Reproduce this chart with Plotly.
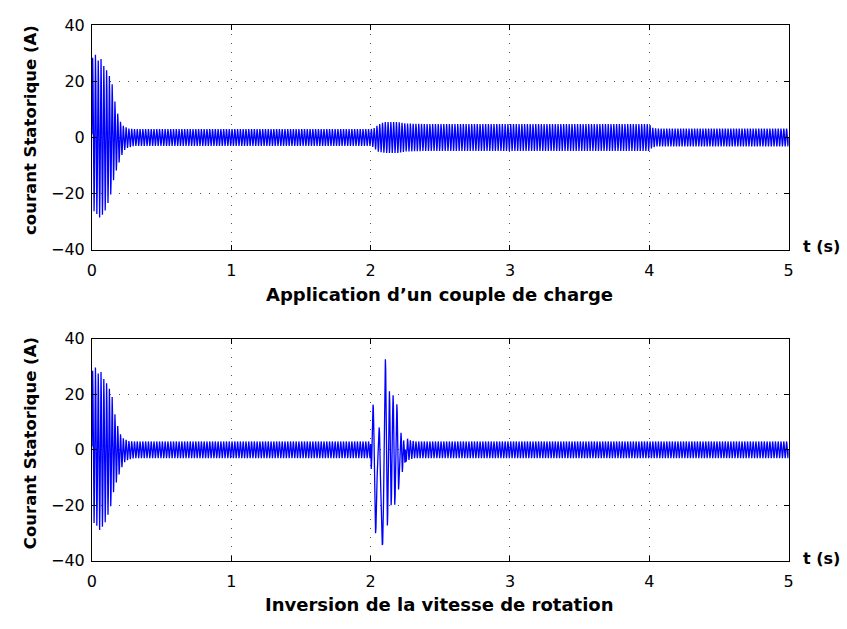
import numpy as np
import plotly.graph_objects as go

# ---------------- data ----------------
F_SUPPLY = 50.0          # Hz, stator current frequency
T_END = 5.0
DT = 2e-4

# Top plot: start-up envelope + load application (2 s -> 4 s)
TOP_ENV_T_UP = [0.0, 0.021, 0.045, 0.065, 0.085, 0.105, 0.125, 0.145, 0.156, 0.17, 0.2, 0.22, 0.26, 0.3,
                2.0, 2.02, 2.04, 2.07, 2.1, 2.2, 2.25, 2.4, 4.0, 4.02, 4.05, 5.0]
TOP_ENV_UP = [28.0, 30.0, 27.5, 28.0, 25.5, 24.0, 22.0, 19.0, 16.0, 11.0, 6.0, 4.3, 3.2, 3.0,
              3.0, 3.2, 4.0, 5.0, 5.5, 5.5, 5.0, 4.8, 4.8, 3.5, 3.2, 3.2]
TOP_ENV_T_LO = [0.0, 0.03, 0.055, 0.09, 0.11, 0.13, 0.16, 0.19, 0.21, 0.24, 0.3,
                2.0, 2.02, 2.05, 2.1, 2.2, 2.25, 2.4, 4.0, 4.01, 4.05, 5.0]
TOP_ENV_LO = [-25.7, -27.0, -28.6, -26.8, -24.0, -21.6, -14.0, -9.6, -6.7, -4.0, -3.0,
              -3.0, -3.5, -5.0, -5.5, -5.5, -5.0, -4.8, -4.8, -4.0, -3.2, -3.2]

# Bottom plot: start-up envelope + speed reversal transient
BOT_ENV_T_UP = [0.0, 0.021, 0.045, 0.065, 0.085, 0.105, 0.125, 0.145, 0.156, 0.17, 0.2, 0.22, 0.26, 0.3,
                2.0, 2.25, 2.28, 2.32, 5.0]
BOT_ENV_UP = [28.0, 30.1, 27.5, 28.0, 25.5, 24.0, 22.0, 19.0, 16.0, 11.0, 6.0, 4.3, 3.2, 3.0,
              3.0, 4.5, 3.5, 3.0, 3.0]
BOT_ENV_T_LO = [0.0, 0.03, 0.055, 0.09, 0.11, 0.13, 0.16, 0.19, 0.21, 0.24, 0.3,
                2.0, 2.25, 2.28, 2.32, 5.0]
BOT_ENV_LO = [-25.7, -27.0, -28.9, -26.8, -24.0, -21.6, -14.0, -9.6, -6.7, -4.0, -3.0,
              -3.0, -4.5, -3.5, -3.0, -3.0]

# extrema of the reversal transient (time s, current A)
REV_T = [2.000, 2.0047, 2.0166, 2.0355, 2.059, 2.085, 2.106, 2.1206, 2.1348, 2.1466,
         2.1608, 2.1726, 2.189, 2.2009, 2.2175, 2.227, 2.2364, 2.2459, 2.25]
REV_V = [2.0, -8.9, 17.9, -28.1, 8.0, -36.3, 30.7, -27.5, 23.1, -21.7,
         19.0, -18.2, 15.5, -14.7, 7.4, -9.5, 5.1, -6.6, 0.0]

X_TICKS = [0, 1, 2, 3, 4, 5]
Y_TICKS = [-40, -20, 0, 20, 40]

TOP_YLABEL = "courant Statorique (A)"
BOT_YLABEL = "Courant Statorique (A)"
TOP_XLABEL = "Application d\u2019un couple de charge"
BOT_XLABEL = "Inversion de la vitesse de rotation"
T_LABEL = "t (s)"

# ---------------- build signals ----------------
t = np.arange(0.0, T_END + DT / 2, DT)
carrier = np.sin(2 * np.pi * F_SUPPLY * t)


def modulated(tt, car, tu, up, tl, lo):
    u = np.interp(tt, tu, up)
    l = np.interp(tt, tl, lo)
    return (u + l) / 2 + (u - l) / 2 * car


y_top = modulated(t, carrier, TOP_ENV_T_UP, TOP_ENV_UP, TOP_ENV_T_LO, TOP_ENV_LO)

y_bot = modulated(t, carrier, BOT_ENV_T_UP, BOT_ENV_UP, BOT_ENV_T_LO, BOT_ENV_LO)
# replace the reversal window with the read extrema, smoothly joined
mask = (t >= REV_T[0]) & (t <= REV_T[-1])
tw = t[mask]
idx = np.clip(np.searchsorted(REV_T, tw, side="right") - 1, 0, len(REV_T) - 2)
t0 = np.array(REV_T)[idx]
t1 = np.array(REV_T)[idx + 1]
v0 = np.array(REV_V)[idx]
v1 = np.array(REV_V)[idx + 1]
s = (tw - t0) / (t1 - t0)
smooth = v0 + (v1 - v0) * (1 - np.cos(np.pi * s)) / 2
y_bot[mask] = smooth + 2.0 * carrier[mask]

# ---------------- figure ----------------
W, H = 847, 629
X0, X1 = 88, 793
TOP_Y0, TOP_Y1 = 17, 248
BOT_Y0, BOT_Y1 = 340, 569


def px(x):
    return x / W


def py(y):
    return 1 - y / H


fig = go.Figure()
fig.add_trace(go.Scatter(x=t, y=y_top, mode="lines", line=dict(color="#0000ff", width=1.3),
                         xaxis="x", yaxis="y", showlegend=False, hoverinfo="skip"))
fig.add_trace(go.Scatter(x=t, y=y_bot, mode="lines", line=dict(color="#0000ff", width=1.3),
                         xaxis="x2", yaxis="y2", showlegend=False, hoverinfo="skip"))

tickfont = dict(family="DejaVu Sans", size=16, color="black")
common_x = dict(range=[0, 5], tickvals=X_TICKS, ticks="inside", ticklen=5, tickcolor="black",
                showline=True, linecolor="black", linewidth=1, mirror="ticks",
                showgrid=True, gridcolor="#555555", gridwidth=1, griddash="1px,8px",
                zeroline=False, tickfont=tickfont, ticklabelstandoff=6,
                domain=[px(X0), px(X1)])
common_y = dict(range=[-40, 40], tickvals=Y_TICKS, ticktext=[("\u2212" + str(-v)) if v < 0 else str(v) for v in Y_TICKS],
                ticks="inside", ticklen=5, tickcolor="black",
                showline=True, linecolor="black", linewidth=1, mirror="ticks",
                showgrid=True, gridcolor="#555555", gridwidth=1, griddash="1px,8px",
                zeroline=False, tickfont=tickfont, ticklabelstandoff=3)

fig.update_layout(
    width=W, height=H,
    margin=dict(l=0, r=0, t=0, b=0),
    paper_bgcolor="white", plot_bgcolor="white",
    xaxis=dict(common_x, anchor="y"),
    yaxis=dict(common_y, anchor="x", domain=[py(TOP_Y1), py(TOP_Y0)]),
    xaxis2=dict(common_x, anchor="y2"),
    yaxis2=dict(common_y, anchor="x2", domain=[py(BOT_Y1), py(BOT_Y0)]),
)

bold = lambda size: dict(family="DejaVu Sans", size=size, color="black", weight="bold")
ann = [
    dict(text=TOP_YLABEL, x=px(26), y=py(125), textangle=-90, font=bold(16.5)),
    dict(text=BOT_YLABEL, x=px(26), y=py(448), textangle=-90, font=bold(16.5)),
    dict(text=TOP_XLABEL, x=px(440), y=py(294), font=bold(18)),
    dict(text=BOT_XLABEL, x=px(440), y=py(614), font=bold(18)),
    dict(text=T_LABEL, x=px(806), y=py(245), xanchor="left", font=bold(16)),
    dict(text=T_LABEL, x=px(806), y=py(567), xanchor="left", font=bold(16)),
]
for a in ann:
    a.update(xref="paper", yref="paper", showarrow=False)
    a.setdefault("xanchor", "center")
    a["yanchor"] = "middle"
fig.update_layout(annotations=ann)

fig.write_html("out.html")
